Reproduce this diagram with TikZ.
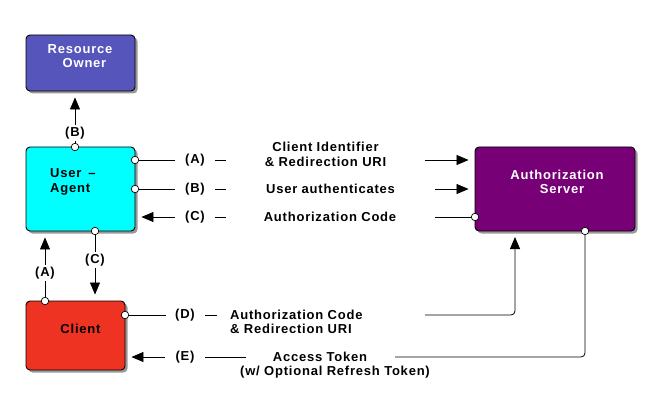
\documentclass[tikz,border=0pt]{standalone}
\usepackage{fontspec}
\setmainfont{Liberation Sans}[LetterSpace=6]
\usetikzlibrary{arrows.meta,shadows}
\definecolor{roC}{HTML}{5555BB}
\definecolor{uaC}{HTML}{00FFFF}
\definecolor{clC}{HTML}{EE3322}
\definecolor{asC}{HTML}{770077}
\begin{document}
\begin{tikzpicture}[x=1pt,y=-1pt,
  box/.style={draw=black,line width=0.9pt,rounded corners=4pt,inner sep=0pt,
    drop shadow={shadow xshift=2.5pt,shadow yshift=-2.5pt,fill=black,opacity=0.4}},
  txt/.style={font=\fontsize{13}{14.5}\selectfont\bfseries,inner sep=0pt},
  tag/.style={txt,fill=white,inner sep=1.5pt},
  dot/.style={circle,draw=black,fill=white,line width=0.7pt,inner sep=0pt,minimum size=7.5pt},
  conn/.style={line width=0.8pt},
  arr/.style={conn,-{Triangle[length=12pt,width=10pt]},shorten >=6pt}]
\useasboundingbox (0,0) rectangle (660,406);

% boxes
\node[box,fill=roC,minimum width=109pt,minimum height=56pt] (RO) at (80.5,63) {};
\node[box,fill=uaC,minimum width=109pt,minimum height=84pt] (UA) at (80.5,189) {};
\node[box,fill=clC,minimum width=99pt,minimum height=69pt] (CL) at (75.5,335.5) {};
\node[box,fill=asC,minimum width=160pt,minimum height=84pt] (AS) at (555,189) {};

% box texts
\node[txt,white,align=center] (roT) at (80,56) {Resource\\\hspace*{9pt}Owner};
\node[txt,anchor=west,align=left] (uaT) at (50,182) {User\hspace{7pt}–\\Agent};
\node[txt] (clT) at (80.5,329) {Client};
\node[txt,white,align=center] (asT) at (557,182) {Authorization\\\hspace*{10pt}Server};

% vertical (B) to Resource Owner
\node[dot] (dB) at (75,147) {};
\draw[arr] (dB) -- (RO.south -| dB);
\node[tag] (lB) at (75,133) {(B)};

% vertical (A) Client -> User Agent
\node[dot] (dAv) at (45,301) {};
\draw[arr] (dAv) -- (UA.south -| dAv);
\node[tag] (lAv) at (45,273) {(A)};

% vertical (C) User Agent -> Client
\node[dot] (dCv) at (95,231) {};
\draw[arr] (dCv) -- (CL.north -| dCv);
\node[tag] (lCv) at (95,260) {(C)};

% Row A
\node[dot] (dA) at (135,160) {};
\coordinate (a1) at (175,160);
\coordinate (a2) at (215,160);
\coordinate (a3) at (226,160);
\coordinate (a4) at (425,160);
\draw[conn] (dA) -- (a1);
\node[txt] (lA) at (195,160) {(A)};
\draw[conn] (a2) -- (a3);
\node[txt,align=center] (tA) at (325.5,154.5) {Client Identifier\\\& Redirection URI};
\draw[arr] (a4) -- (AS.west |- a4);

% Row B
\node[dot] (dBr) at (135,189) {};
\coordinate (b1) at (175,189);
\coordinate (b2) at (215,189);
\coordinate (b3) at (226,189);
\coordinate (b4) at (435,189);
\draw[conn] (dBr) -- (b1);
\node[txt] (lBr) at (195,189) {(B)};
\draw[conn] (b2) -- (b3);
\node[txt] (tB) at (330.5,189) {User authenticates};
\draw[arr] (b4) -- (AS.west |- b4);

% Row C
\node[dot] (dC) at (475,217) {};
\coordinate (c1) at (175,217);
\coordinate (c2) at (215,217);
\coordinate (c3) at (226,217);
\coordinate (c4) at (435,217);
\draw[conn] (dC) -- (c4);
\node[txt] (tC) at (330,217) {Authorization Code};
\draw[conn] (c2) -- (c3);
\node[txt] (lC) at (195,217) {(C)};
\draw[arr] (c1) -- (UA.east |- c1);

% Row D
\node[dot] (dD) at (125,315) {};
\coordinate (d1) at (166,315);
\coordinate (d2) at (205,315);
\coordinate (d3) at (217,315);
\coordinate (d4) at (425,315);
\coordinate (d5) at (515,231);
\draw[conn] (dD) -- (d1);
\node[txt] (lD) at (185,315) {(D)};
\draw[conn] (d2) -- (d3);
\node[txt,align=left,anchor=west] (tD) at (230,322) {Authorization Code\\\& Redirection URI};
\draw[arr,rounded corners=4pt] (d4) -| (d5);

% Row E
\node[dot] (dE) at (585,231) {};
\coordinate (e1) at (165,357);
\coordinate (e2) at (205,357);
\coordinate (e3) at (246,357);
\coordinate (e4) at (395,357);
\draw[conn,rounded corners=4pt] (dE) |- (e4);
\node[txt] (tE1) at (320,357) {Access Token};
\node[txt] (tE2) at (335,372) {(w/ Optional Refresh Token)};
\draw[conn] (e3) -- (e2);
\node[txt] (lE) at (185,357) {(E)};
\draw[arr] (e1) -- (CL.east |- e1);
\end{tikzpicture}
\end{document}
